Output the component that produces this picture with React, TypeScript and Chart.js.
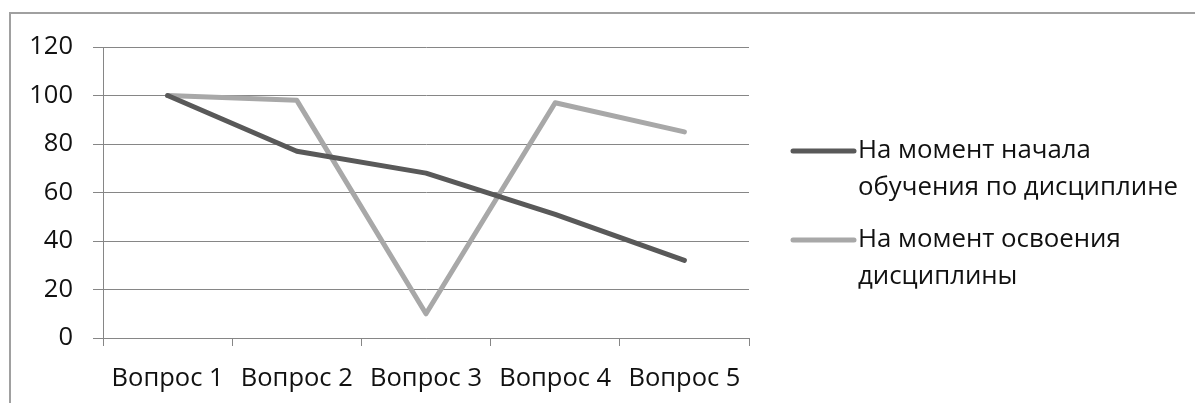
import { useEffect, useRef } from 'react';
import { Chart, registerables } from 'chart.js';

Chart.register(...registerables);

const categories = ['Вопрос 1', 'Вопрос 2', 'Вопрос 3', 'Вопрос 4', 'Вопрос 5'];
const seriesStart = [100, 77, 68, 51, 32];
const seriesEnd = [100, 98, 10, 97, 85];
const seriesStartName = ['На момент начала', 'обучения по дисциплине'];
const seriesEndName = ['На момент освоения', 'дисциплины'];
const yMin = 0;
const yMax = 120;
const yStep = 20;

const FONT = '"Open Sans", "Noto Sans", sans-serif';
const TEXT = '#111111';
const GRID = '#868686';
const DARK = '#595959';
const LIGHT = '#a8a8a8';

const framePlugin = {
  id: 'frame',
  beforeDraw(chart: any) {
    const ctx = chart.ctx;
    ctx.save();
    ctx.fillStyle = '#ffffff';
    ctx.fillRect(0, 0, chart.width, chart.height);
    ctx.strokeStyle = '#a0a0a0';
    ctx.lineWidth = 2;
    ctx.beginPath();
    ctx.moveTo(10, chart.height);
    ctx.lineTo(10, 13);
    ctx.lineTo(chart.width, 13);
    ctx.stroke();
    ctx.restore();
  },
};

const legendPlugin = {
  id: 'customLegend',
  afterDraw(chart: any) {
    const ctx = chart.ctx;
    const area = chart.chartArea;
    const x0 = area.right + 44;
    const x1 = area.right + 105;
    const tx = area.right + 109;
    const tops = [151, 240];
    const lineGap = 37;
    chart.data.datasets.forEach((ds: any, i: number) => {
      const y = tops[i];
      ctx.save();
      ctx.strokeStyle = ds.borderColor;
      ctx.lineWidth = 5;
      ctx.lineCap = 'round';
      ctx.beginPath();
      ctx.moveTo(x0, y);
      ctx.lineTo(x1, y);
      ctx.stroke();
      ctx.fillStyle = TEXT;
      ctx.font = `25.8px ${FONT}`;
      ctx.textBaseline = 'middle';
      ctx.textAlign = 'left';
      (ds.label as string).split('\n').forEach((line: string, j: number) => {
        ctx.fillText(line, tx, y + j * lineGap);
      });
      ctx.restore();
    });
  },
};

export default function App() {
  const ref = useRef<HTMLCanvasElement | null>(null);

  useEffect(() => {
    if (!ref.current) return;
    const chart = new Chart(ref.current, {
      type: 'line',
      data: {
        labels: categories,
        datasets: [
          {
            label: seriesStartName.join('\n'),
            data: seriesStart,
            borderColor: DARK,
            backgroundColor: DARK,
            borderWidth: 5,
            pointRadius: 0,
            tension: 0,
            borderCapStyle: 'round',
            borderJoinStyle: 'round',
          },
          {
            label: seriesEndName.join('\n'),
            data: seriesEnd,
            borderColor: LIGHT,
            backgroundColor: LIGHT,
            borderWidth: 5,
            pointRadius: 0,
            tension: 0,
            borderCapStyle: 'round',
            borderJoinStyle: 'round',
          },
        ],
      },
      options: {
        responsive: false,
        animation: false,
        devicePixelRatio: 1,
        layout: { padding: { top: 47, right: 446, left: 0, bottom: 0 } },
        plugins: {
          legend: { display: false },
          tooltip: { enabled: false },
        },
        scales: {
          x: {
            offset: true,
            ticks: {
              color: TEXT,
              padding: 17,
              font: { family: FONT, size: 25.5 },
              maxRotation: 0,
              autoSkip: false,
            },
            grid: {
              display: true,
              drawOnChartArea: false,
              drawTicks: true,
              tickLength: 8,
              offset: true,
              color: GRID,
              lineWidth: 1,
            },
            border: { display: true, color: GRID, width: 1 },
            afterFit: (s: any) => {
              s.height = 65;
            },
          },
          y: {
            min: yMin,
            max: yMax,
            ticks: {
              stepSize: yStep,
              color: TEXT,
              padding: 20,
              font: { family: FONT, size: 25.5 },
            },
            grid: {
              color: GRID,
              lineWidth: 1,
              tickLength: 10,
              drawTicks: true,
            },
            border: { display: true, color: GRID, width: 1 },
            afterFit: (s: any) => {
              s.width = 103;
            },
          },
        },
      },
      plugins: [framePlugin, legendPlugin],
    });
    return () => chart.destroy();
  }, []);

  return (
    <div style={{ position: 'absolute', left: 0, top: 0, width: 1195, height: 403 }}>
      <canvas ref={ref} width={1195} height={403} style={{ display: 'block' }} />
    </div>
  );
}
